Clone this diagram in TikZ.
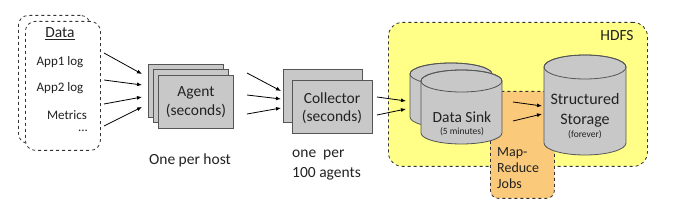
\documentclass[tikz,border=0pt]{standalone}
\usepackage{fontspec}
\setmainfont{Carlito}
\usetikzlibrary{arrows.meta}
\definecolor{boxgray}{HTML}{C8C8C8}
\definecolor{hdfsyellow}{HTML}{FFFF88}
\definecolor{mrorange}{HTML}{FBC97A}
\definecolor{edgegray}{HTML}{555555}
\definecolor{txtgray}{HTML}{222222}
\newcommand{\drawcyl}[5]{%
  \path[cylfill] (#1-#3,#2) -- (#1-#3,#5)
     arc[start angle=180,end angle=0,x radius=#3,y radius=#4]
     -- (#1+#3,#2)
     arc[start angle=0,end angle=-180,x radius=#3,y radius=#4] -- cycle;
  \draw[cyledge] (#1,#2) ellipse[x radius=#3,y radius=#4];
}
\begin{document}
\begin{tikzpicture}[x=1pt,y=-1pt,
  procbox/.style={draw=edgegray, fill=boxgray, line width=0.8pt, inner sep=0pt,
     anchor=north west, minimum width=75pt, minimum height=53pt},
  databox/.style={draw=black!80, dashed, line width=0.8pt, rounded corners=10pt,
     fill=white, inner sep=0pt, anchor=north west},
  hdfsbox/.style={draw=black!80, dashed, line width=0.8pt, rounded corners=14pt,
     fill=hdfsyellow, inner sep=0pt, anchor=north west},
  mrbox/.style={draw=black!80, dashed, line width=0.8pt, rounded corners=8pt,
     fill=mrorange, inner sep=0pt, anchor=north west},
  cylfill/.style={fill=boxgray, draw=edgegray, line width=0.8pt},
  cyledge/.style={draw=edgegray, line width=0.8pt},
  arr/.style={-{Latex[length=5pt,width=4pt]}, line width=0.8pt, black},
  lbl/.style={inner sep=0pt, text=txtgray, align=center},
  bigtxt/.style={font=\fontsize{15.5}{18.5}\selectfont},
  midtxt/.style={font=\fontsize{13}{16}\selectfont},
  smalltxt/.style={font=\fontsize{9.5}{11}\selectfont}]
\useasboundingbox (0,0) rectangle (688,216);

% Data sources
\node[databox, minimum width=72pt, minimum height=128pt] (databack) at (18,15) {};
\node[databox, minimum width=75pt, minimum height=129pt] (datafront) at (25,21) {};
\node[lbl, bigtxt] (datatitle) at (60,34) {\underline{Data}};
\node[lbl, midtxt] (app1) at (60,62) {App1 log};
\node[lbl, midtxt] (app2) at (60,88) {App2 log};
\node[lbl, midtxt] (metrics) at (67,115) {Metrics};
\node[lbl, midtxt] (dots) at (83,131) {...};

% Agents
\node[procbox] (agent3) at (148,64) {};
\node[procbox] (agent2) at (153,69) {};
\node[procbox] (agent1) at (158,75) {};
\node[lbl, bigtxt] (agenttxt) at (196,102) {Agent\\(seconds)};
\node[lbl, bigtxt] (agentnote) at (190,160) {One per host};

% Collectors
\node[procbox, minimum width=79pt] (coll2) at (283,69) {};
\node[procbox, minimum width=80pt] (coll1) at (292,80) {};
\node[lbl, bigtxt] (colltxt) at (332,108) {Collector\\(seconds)};
\node[lbl, bigtxt, anchor=west, align=left] (collnote1) at (292,155) {one\ \ per};
\node[lbl, bigtxt, anchor=west, align=left] (collnote2) at (292,174) {100 agents};

% HDFS
\node[hdfsbox, minimum width=259pt, minimum height=144pt] (hdfs) at (388,22) {};
\node[lbl, bigtxt] (hdfslbl) at (617,36) {HDFS};
\node[mrbox, minimum width=64pt, minimum height=107pt] (mr) at (490,91) {};
\node[lbl, font=\fontsize{14}{16}\selectfont, anchor=north west, align=left] (mrtxt) at (497,147) {Map-\\Reduce\\Jobs};

% Cylinders
\drawcyl{451}{74}{41}{11}{117}
\drawcyl{461.5}{81}{40.5}{11}{133}
\drawcyl{585}{67}{41}{12}{143}
\node[lbl, bigtxt] (sinktxt) at (462,117) {Data Sink};
\node[lbl, smalltxt] (sinknote) at (462,132) {(5 minutes)};
\node[lbl, font=\fontsize{16}{20}\selectfont] (storetxt) at (585,110) {Structured\\Storage};
\node[lbl, smalltxt] (storenote) at (585,135) {(forever)};

% Arrow endpoints
\coordinate (d1) at (104,53);  \coordinate (a1) at (142,74);
\coordinate (d2) at (104,80);  \coordinate (a2) at (142,85);
\coordinate (d3) at (104,104); \coordinate (a3) at (142,97);
\coordinate (d4) at (104,126); \coordinate (a4) at (142,107);
\coordinate (g1) at (247,73);  \coordinate (c1) at (281,91);
\coordinate (g2) at (247,95);  \coordinate (c2) at (281,99);
\coordinate (g3) at (247,114); \coordinate (c3) at (281,108);
\coordinate (o1) at (377,97);  \coordinate (s1) at (406,101);
\coordinate (o2) at (377,115); \coordinate (s2) at (406,109);
\coordinate (k1) at (513,102); \coordinate (t1) at (542,106);
\coordinate (k2) at (513,121); \coordinate (t2) at (542,114);

\draw[arr] (d1) -- (a1);
\draw[arr] (d2) -- (a2);
\draw[arr] (d3) -- (a3);
\draw[arr] (d4) -- (a4);
\draw[arr] (g1) -- (c1);
\draw[arr] (g2) -- (c2);
\draw[arr] (g3) -- (c3);
\draw[arr] (o1) -- (s1);
\draw[arr] (o2) -- (s2);
\draw[arr] (k1) -- (t1);
\draw[arr] (k2) -- (t2);
\end{tikzpicture}
\end{document}
